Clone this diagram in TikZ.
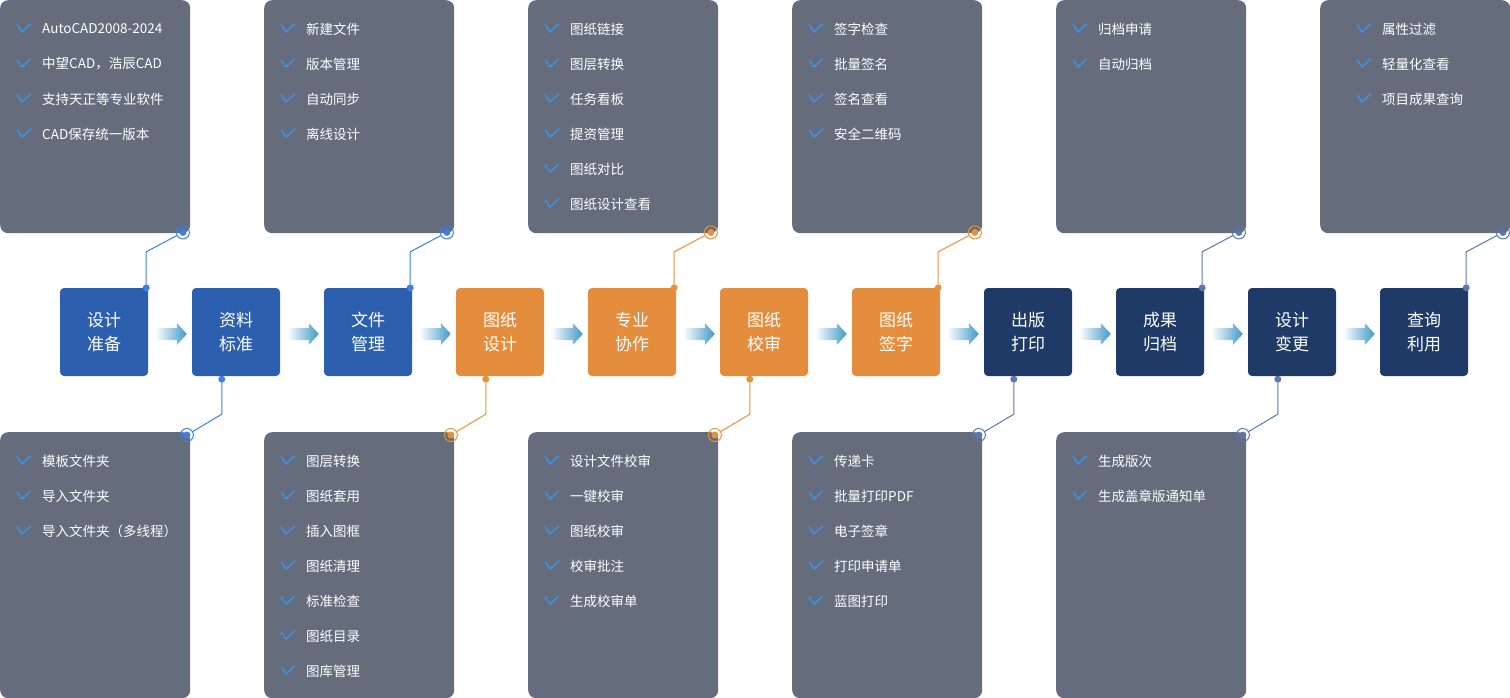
\documentclass[tikz,border=0pt]{standalone}
\usepackage{fontspec}
\setmainfont{Noto Sans CJK SC}
\usepackage{xcolor}
\usetikzlibrary{arrows.meta, positioning, calc}

\definecolor{panelgray}{HTML}{656C7C}
\definecolor{stageblue}{HTML}{2D5FAF}
\definecolor{stageorange}{HTML}{E48D3D}
\definecolor{stagenavy}{HTML}{1F3A66}
\definecolor{tickblue}{HTML}{3A95EA}
\definecolor{linkblue}{HTML}{3D7EEA}
\definecolor{linkorange}{HTML}{E8903A}
\definecolor{linknavy}{HTML}{5B78AE}
\definecolor{flowblue}{HTML}{3F98C8}

\begin{document}
\begin{tikzpicture}[x=1pt, y=-1pt,
    panel/.style={fill=panelgray, rounded corners=8pt, anchor=north west,
      minimum width=190pt, inner sep=0pt},
    stage/.style={fill=#1, rounded corners=4pt, minimum size=88pt, inner sep=0pt,
      text=white, align=center, font=\fontsize{17}{24}\selectfont},
    item/.style={anchor=west, text=white, inner sep=0pt,
      font=\fontsize{13.5}{16}\selectfont},
    checkmark/.style={draw=tickblue, line width=1.4pt, line cap=round, line join=round},
    knob/.style={circle, fill=#1, inner sep=0pt, minimum size=7pt},
    ring/.style={circle, draw=#1, line width=1pt, inner sep=0pt, minimum size=13pt,
      path picture={\fill[#1] (path picture bounding box.center) circle (3.5pt);}},
    link/.style={draw=#1, line width=1pt},
  ]
  \useasboundingbox (0,0) rectangle (1510,698);

  % Feature panels, top row
  \foreach \k/\dx/\list in {
      0/42/{AutoCAD2008-2024, 中望CAD，浩辰CAD, 支持天正等专业软件, CAD保存统一版本},
      1/42/{新建文件, 版本管理, 自动同步, 离线设计},
      2/42/{图纸链接, 图层转换, 任务看板, 提资管理, 图纸对比, 图纸设计查看},
      3/42/{签字检查, 批量签名, 签名查看, 安全二维码},
      4/42/{归档申请, 自动归档},
      5/62/{属性过滤, 轻量化查看, 项目成果查询}} {
    \node[panel, minimum height=233pt] (t\k) at ({264*\k}, 0) {};
    \foreach \t [count=\r from 0] in \list {
      \node[item] (t\k-\r) at ([shift={(\dx,{29+35*\r})}]t\k.north west) {\t};
      \draw[checkmark] ([shift={(-24.7,-4)}]t\k-\r.west) -- ++(4.7,7) -- ++(8.7,-8);
    }
  }

  % Feature panels, bottom row
  \foreach \k/\list in {
      0/{模板文件夹, 导入文件夹, 导入文件夹（多线程）},
      1/{图层转换, 图纸套用, 插入图框, 图纸清理, 标准检查, 图纸目录, 图库管理},
      2/{设计文件校审, 一键校审, 图纸校审, 校审批注, 生成校审单},
      3/{传递卡, 批量打印PDF, 电子签章, 打印申请单, 蓝图打印},
      4/{生成版次, 生成盖章版通知单}} {
    \node[panel, minimum height=266pt] (b\k) at ({264*\k}, 432) {};
    \foreach \t [count=\r from 0] in \list {
      \node[item] (b\k-\r) at ([shift={(42,{29+35*\r})}]b\k.north west) {\t};
      \draw[checkmark] ([shift={(-24.7,-4)}]b\k-\r.west) -- ++(4.7,7) -- ++(8.7,-8);
    }
  }

  % Process stages
  \foreach \txt/\col [count=\i from 0] in {
      设计\\准备/stageblue, 资料\\标准/stageblue, 文件\\管理/stageblue,
      图纸\\设计/stageorange, 专业\\协作/stageorange, 图纸\\校审/stageorange,
      图纸\\签字/stageorange, 出版\\打印/stagenavy, 成果\\归档/stagenavy,
      设计\\变更/stagenavy, 查询\\利用/stagenavy} {
    \node[stage=\col] (s\i) at ({104+132*\i}, 332) {\txt};
  }

  % Flow arrows
  \foreach \i in {0,...,9} {
    \pgfmathtruncatemacro\j{\i+1}
    \shade[left color=white, right color=flowblue]
      ($(s\i.east)+(7,-4)$) -- ($(s\j.west)+(-15,-4)$) -- ++(0,-5)
      -- ($(s\j.west)+(-5,2)$) -- ($(s\j.west)+(-15,13)$) -- ++(0,-5)
      -- ($(s\i.east)+(7,8)$) -- cycle;
  }

  % Links up to the top panels
  \foreach \s/\t/\c in {0/0/linkblue, 2/1/linkblue, 4/2/linkorange,
      6/3/linkorange, 8/4/linknavy, 10/5/linknavy} {
    \node[knob=\c] (p\s) at ([xshift=-2pt]s\s.north east) {};
    \node[ring=\c] (r\s) at ([shift={(-7.5,-1)}]t\t.south east) {};
    \coordinate (k\s) at ($(p\s)+(0,-36)$);
    \draw[link=\c] (p\s) -- (k\s) -- (r\s);
  }

  % Links down to the bottom panels
  \foreach \s/\b/\c in {1/0/linkblue, 3/1/linkorange, 5/2/linkorange,
      7/3/linknavy, 9/4/linknavy} {
    \node[knob=\c] (p\s) at ([shift={(30,3)}]s\s.south west) {};
    \node[ring=\c] (r\s) at ([shift={(-3.5,3)}]b\b.north east) {};
    \coordinate (k\s) at ($(p\s)+(0,35)$);
    \draw[link=\c] (p\s) -- (k\s) -- (r\s);
  }
\end{tikzpicture}
\end{document}
